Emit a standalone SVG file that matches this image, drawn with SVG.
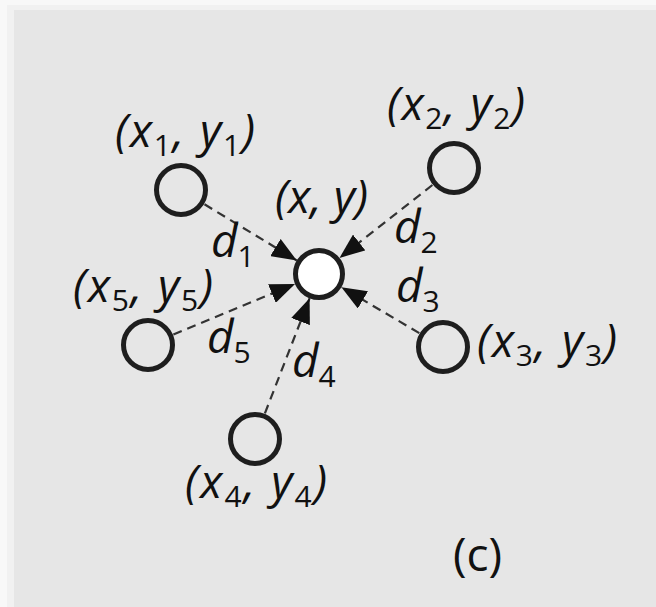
<svg xmlns="http://www.w3.org/2000/svg" width="656" height="607" viewBox="0 0 656 607">
<style>
.t{font-family:"Open Sans","Noto Sans","DejaVu Sans",sans-serif;font-size:46px;font-style:italic;fill:#111}
.s{font-style:normal;font-size:30px}
.u{font-family:"Open Sans","Noto Sans","DejaVu Sans",sans-serif;font-size:46px;fill:#111}
.node{fill:none;stroke:#1e1e1e;stroke-width:5}
.ctr{fill:#fff;stroke:#1e1e1e;stroke-width:5}
.edge{stroke:#333;stroke-width:2.2;stroke-dasharray:9 6;fill:none;marker-end:url(#ah)}
</style>
<defs>
<marker id="ah" markerUnits="userSpaceOnUse" markerWidth="25" markerHeight="20" viewBox="0 0 25 20" refX="25" refY="10" orient="auto">
<path d="M0,0 L25,10 L0,20 Z" fill="#111"/>
</marker>
</defs>
<rect width="656" height="607" fill="#f8f8f8"/>
<rect x="7" y="5" width="649" height="602" fill="#f1f1f1"/>
<rect x="14" y="10" width="642" height="597" fill="#e6e6e6"/>
<g id="connectors">
<line class="edge" x1="204.5" y1="204.3" x2="296.8" y2="260.5"/>
<line class="edge" x1="432.4" y1="185.0" x2="339.5" y2="257.9"/>
<line class="edge" x1="419.3" y1="333.1" x2="341.4" y2="287.2"/>
<line class="edge" x1="264.9" y1="413.4" x2="309.6" y2="298.2"/>
<line class="edge" x1="173.4" y1="334.5" x2="295" y2="284"/>
</g>
<g id="center">
<circle class="ctr" cx="319" cy="274" r="23.5"/>
<text class="t" x="275" y="213" textLength="93" lengthAdjust="spacing">(x, y)</text>
</g>
<g id="n1">
<circle class="node" cx="181" cy="190" r="24.5"/>
<text class="t" x="115" y="147" textLength="140" lengthAdjust="spacing">(x<tspan class="s" dy="9">1</tspan><tspan dy="-9">, y</tspan><tspan class="s" dy="9">1</tspan><tspan dy="-9">)</tspan></text>
</g>
<g id="n2">
<circle class="node" cx="454" cy="168" r="24.5"/>
<text class="t" x="387" y="120" textLength="138" lengthAdjust="spacing">(x<tspan class="s" dy="9">2</tspan><tspan dy="-9">, y</tspan><tspan class="s" dy="9">2</tspan><tspan dy="-9">)</tspan></text>
</g>
<g id="n3">
<circle class="node" cx="443" cy="347" r="24.5"/>
<text class="t" x="477" y="357" textLength="140" lengthAdjust="spacing">(x<tspan class="s" dy="9">3</tspan><tspan dy="-9">, y</tspan><tspan class="s" dy="9">3</tspan><tspan dy="-9">)</tspan></text>
</g>
<g id="n4">
<circle class="node" cx="255" cy="439" r="24.5"/>
<text class="t" x="185" y="498" textLength="142" lengthAdjust="spacing">(x<tspan class="s" dy="9">4</tspan><tspan dy="-9">, y</tspan><tspan class="s" dy="9">4</tspan><tspan dy="-9">)</tspan></text>
</g>
<g id="n5">
<circle class="node" cx="148" cy="345" r="24.5"/>
<text class="t" x="73" y="302" textLength="140" lengthAdjust="spacing">(x<tspan class="s" dy="9">5</tspan><tspan dy="-9">, y</tspan><tspan class="s" dy="9">5</tspan><tspan dy="-9">)</tspan></text>
</g>
<g id="labels">
<text class="t" x="211" y="257">d<tspan class="s" dy="10">1</tspan></text>
<text class="t" x="394" y="243">d<tspan class="s" dy="10">2</tspan></text>
<text class="t" x="396" y="302">d<tspan class="s" dy="10">3</tspan></text>
<text class="t" x="292" y="377">d<tspan class="s" dy="10">4</tspan></text>
<text class="t" x="207" y="353">d<tspan class="s" dy="10">5</tspan></text>
<text class="u" x="453" y="571">(c)</text>
</g>
</svg>
